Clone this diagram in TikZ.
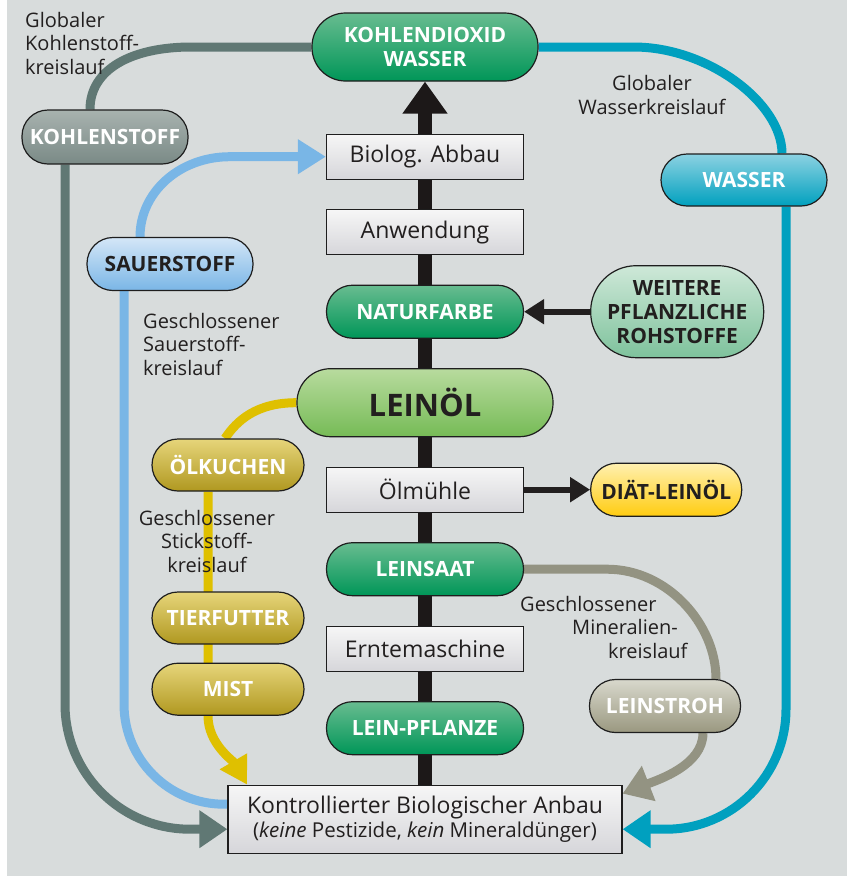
\documentclass[tikz,border=0pt]{standalone}
\usepackage{fontspec}
\setmainfont{Open Sans}
\usetikzlibrary{positioning, arrows.meta, backgrounds}

\definecolor{paperbg}{RGB}{216,220,220}
\definecolor{ink}{RGB}{34,31,31}
\definecolor{edge}{RGB}{30,30,30}
\definecolor{spine}{RGB}{28,24,24}
\definecolor{greentop}{RGB}{104,188,144}
\definecolor{greenbot}{RGB}{0,150,88}
\definecolor{boxtop}{RGB}{246,246,246}
\definecolor{boxbot}{RGB}{214,214,218}
\definecolor{oeltop}{RGB}{184,219,158}
\definecolor{oelbot}{RGB}{118,187,86}
\definecolor{kstofftop}{RGB}{168,178,175}
\definecolor{kstoffbot}{RGB}{122,138,134}
\definecolor{wassertop}{RGB}{140,210,226}
\definecolor{wasserbot}{RGB}{0,160,190}
\definecolor{sauertop}{RGB}{212,230,247}
\definecolor{sauerbot}{RGB}{122,182,230}
\definecolor{weitertop}{RGB}{206,232,216}
\definecolor{weiterbot}{RGB}{126,194,156}
\definecolor{olivetop}{RGB}{230,213,122}
\definecolor{olivebot}{RGB}{176,152,32}
\definecolor{diaettop}{RGB}{255,240,176}
\definecolor{diaetbot}{RGB}{255,204,16}
\definecolor{strohtop}{RGB}{216,216,204}
\definecolor{strohbot}{RGB}{154,152,128}
\definecolor{carbon}{RGB}{96,120,116}
\definecolor{water}{RGB}{0,160,191}
\definecolor{oxygen}{RGB}{121,182,230}
\definecolor{nitro}{RGB}{223,192,0}
\definecolor{mineral}{RGB}{147,147,130}

\pgfdeclarelayer{paper}
\pgfsetlayers{paper,background,main}

\begin{document}
\begin{tikzpicture}[
  x=1pt, y=-1pt,
  node distance=29.3pt,
  pill/.style={rectangle, rounded corners=26pt, draw=edge, line width=1.2pt, minimum height=53pt, inner sep=2pt, align=center, font=\bfseries\fontsize{21}{24}\selectfont, text=white},
  spinepill/.style={pill, top color=greentop, bottom color=greenbot, minimum width=197pt},
  olivepill/.style={pill, top color=olivetop, bottom color=olivebot, minimum width=152pt, minimum height=52pt},
  stepbox/.style={rectangle, draw=edge, line width=1.2pt, minimum width=197pt, minimum height=45pt, inner sep=2pt, top color=boxtop, bottom color=boxbot, font=\fontsize{23}{26}\selectfont, text=ink},
  cyclelabel/.style={inner sep=0pt, text=ink, font=\fontsize{20}{23.5}\selectfont},
  flow/.style={line width=9pt},
  bigtip/.style={-{Triangle[length=28pt, width=36pt]}},
  arr/.style={line width=6pt, draw=ink, -{Triangle[length=20pt, width=24pt]}}
]
  \useasboundingbox (0,0) rectangle (851,876);
  \begin{pgfonlayer}{paper}
    \fill[white] (0,0) rectangle (851,876);
    \fill[paperbg] (7,0) rectangle (847,876);
  \end{pgfonlayer}

  \node[spinepill, rounded corners=33.5pt, minimum height=68pt, minimum width=226pt] (co2) at (425,47) {KOHLENDIOXID\\WASSER};
  \node[stepbox, below=52pt of co2] (abbau) {Biolog. Abbau};
  \node[stepbox, below=of abbau] (anw) {Anwendung};
  \node[spinepill, below=of anw] (farbe) {NATURFARBE};
  \node[pill, rounded corners=33.5pt, minimum height=68pt, minimum width=256pt, top color=oeltop, bottom color=oelbot, text=ink, font=\bfseries\fontsize{31}{36}\selectfont, below=of farbe] (oel) {LEINÖL};
  \node[stepbox, below=of oel] (muehle) {Ölmühle};
  \node[spinepill, below=of muehle] (saat) {LEINSAAT};
  \node[stepbox, below=of saat] (ernte) {Erntemaschine};
  \node[spinepill, below=of ernte] (pflanze) {LEIN-PFLANZE};
  \node[stepbox, minimum width=394pt, minimum height=68pt, align=center, below=of pflanze] (anbau) {Kontrollierter Biologischer Anbau\\[-2pt]{\fontsize{20.5}{23}\selectfont(\textit{keine} Pestizide, \textit{kein} Mineraldünger)}};

  \node[pill, minimum width=166pt, minimum height=54pt, top color=kstofftop, bottom color=kstoffbot] (kstoff) at (105,137) {KOHLENSTOFF};
  \node[pill, minimum width=166pt, minimum height=52pt, top color=wassertop, bottom color=wasserbot] (wasser) at (744,180) {WASSER};
  \node[pill, minimum width=166pt, top color=sauertop, bottom color=sauerbot, text=ink] (sauer) at (170,264) {SAUERSTOFF};
  \node[pill, rounded corners=45.5pt, minimum width=173pt, minimum height=92pt, top color=weitertop, bottom color=weiterbot, text=ink, right=66pt of farbe] (weitere) {WEITERE\\PFLANZLICHE\\ROHSTOFFE};
  \node[olivepill] (kuchen) at (228,465) {ÖLKUCHEN};
  \node[olivepill] (futter) at (228,618) {TIERFUTTER};
  \node[olivepill, below=18pt of futter] (mist) {MIST};
  \node[pill, minimum width=151pt, top color=diaettop, bottom color=diaetbot, text=ink, right=66pt of muehle] (diaet) {DIÄT-LEINÖL};
  \node[pill, minimum width=151pt, top color=strohtop, bottom color=strohbot] (stroh) at (665,706) {LEINSTROH};

  \node[cyclelabel, anchor=west, align=left] (lblc) at (25,43) {Globaler\\Kohlenstoff-\\kreislauf};
  \node[cyclelabel, align=center] (lblw) at (652,95) {Globaler\\Wasserkreislauf};
  \node[cyclelabel, anchor=west, align=left] (lblo) at (143,344) {Geschlossener\\Sauerstoff-\\kreislauf};
  \node[cyclelabel, align=center] (lbln) at (207,541) {Geschlossener\\Stickstoff-\\kreislauf};
  \node[cyclelabel, anchor=west, align=left] (lblm) at (520,627) {Geschlossener\\\hspace*{52pt}Mineralien-\\\hspace*{88pt}kreislauf};

  \begin{scope}[on background layer]
    \draw[line width=14pt, draw=spine, -{Triangle[length=32pt, width=43pt]}] (anbau.north) -- (co2.south);
    \draw[flow, draw=carbon] (co2.west) -- ++(-120,0) .. controls +(-60,0) and +(0,-40) .. ([xshift=-15pt]kstoff.north);
    \draw[flow, draw=carbon, bigtip, rounded corners=125pt] ([xshift=-40pt]kstoff.south) |- ([yshift=-10pt]anbau.west);
    \draw[flow, draw=water] (co2.east) -- ++(95,0) .. controls +(75,0) and +(0,-50) .. ([xshift=38pt]wasser.north);
    \draw[flow, draw=water, bigtip, rounded corners=120pt] ([xshift=42pt]wasser.south) |- ([yshift=-10pt]anbau.east);
    \draw[flow, draw=oxygen, rounded corners=100pt] ([yshift=15pt]anbau.west) -| ([xshift=-46pt]sauer.south);
    \draw[flow, draw=oxygen, -{Triangle[length=28pt, width=33pt]}] ([xshift=-30pt]sauer.north) .. controls +(0,-45) and +(-50,0) .. ([xshift=-96pt]abbau.west) -- (abbau.west);
    \draw[flow, draw=nitro] (oel.west) .. controls +(-40,0) and +(12,-18) .. ([xshift=-3pt]kuchen.north);
    \draw[flow, draw=nitro, -{Triangle[length=27pt, width=30pt]}] ([xshift=-20pt]kuchen.south) -- ([xshift=-20pt]mist.south) .. controls +(0,28) and +(-14,-24) .. ([xshift=-178pt]anbau.north);
    \draw[flow, draw=mineral] (saat.east) -- ++(83,0) .. controls +(60,0) and +(0,-55) .. ([xshift=51pt]stroh.north);
    \draw[flow, draw=mineral, bigtip] ([xshift=38pt]stroh.south) .. controls +(0,32) and +(36,-14) .. ([yshift=-9pt]anbau.north east);
  \end{scope}
  \draw[arr] (weitere.west) -- (farbe.east);
  \draw[arr] (muehle.east) -- (diaet.west);
\end{tikzpicture}
\end{document}
